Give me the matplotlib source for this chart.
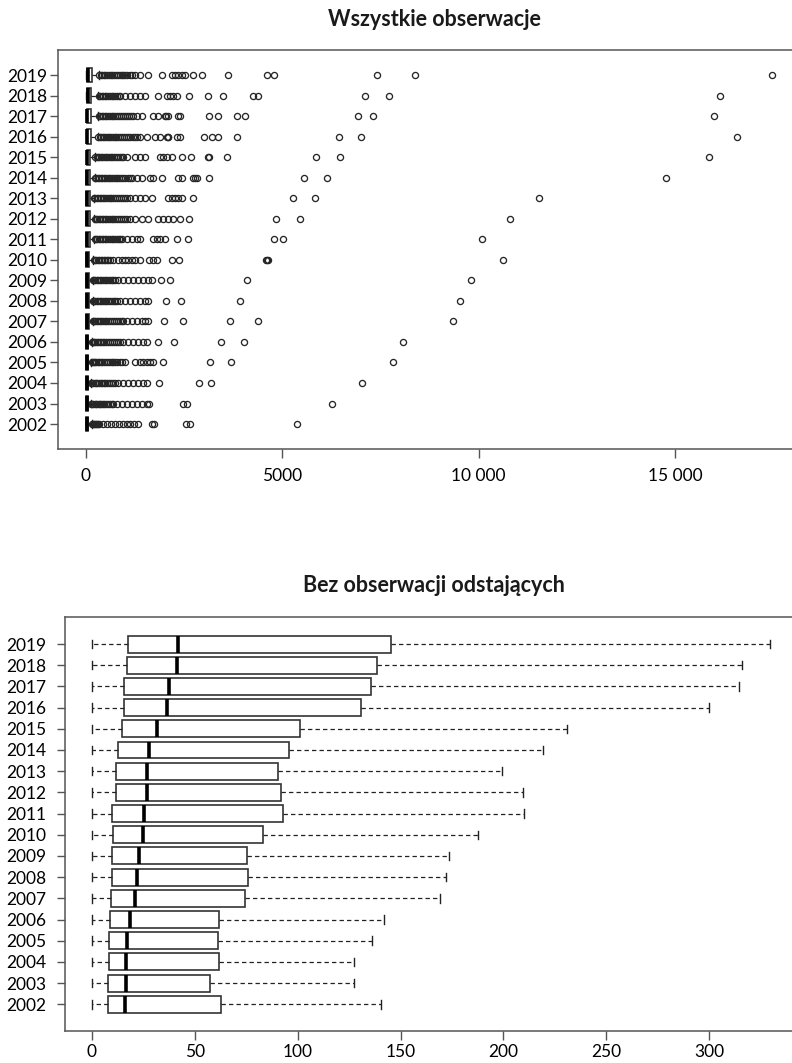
import matplotlib
matplotlib.use("Agg")
import matplotlib.pyplot as plt

plt.rcParams["font.family"] = ["Lato", "DejaVu Sans"]

years = list(range(2002, 2020))

# box statistics (2002 ... 2019)
q1 = [7.6, 7.6, 8.4, 8.4, 8.9, 9.4, 9.9, 9.9, 10.4, 9.9, 11.5, 11.5, 12.8, 14.4, 15.7, 15.7, 16.8, 17.3]
med = [16.0, 16.4, 16.4, 17.0, 18.6, 20.7, 21.9, 22.8, 24.6, 25.4, 26.6, 26.6, 27.9, 31.4, 36.3, 37.4, 41.5, 42.0]
q3 = [62.6, 57.5, 61.7, 61.1, 61.7, 74.5, 75.7, 75.4, 83.1, 92.7, 91.9, 90.6, 95.8, 101.1, 130.8, 135.5, 138.4, 145.6]
whis_lo = [0.0] * 18
whis_hi = [140.3, 127.5, 127.5, 136.1, 141.8, 169.4, 172.3, 173.4, 187.8, 210.2, 209.4, 199.2, 219.1, 231.1, 300.1, 314.7, 316.2, 329.6]

# outliers (2002 ... 2019)
fliers = [
    [150, 170, 195, 220, 250, 280, 310, 340, 441, 540, 640, 740, 840, 940, 1040, 1130, 1230, 1333,
     1689, 1732, 2547, 2649, 5382],
    [135, 160, 190, 220, 250, 285, 320, 355, 390, 430, 470, 510, 555, 600, 650, 696, 781, 909, 1036,
     1164, 1291, 1418, 1545, 1613, 2462, 2582, 6257],
    [135, 160, 190, 220, 255, 290, 330, 370, 410, 450, 495, 540, 590, 640, 690, 739, 823, 950, 1078,
     1206, 1333, 1460, 1545, 1859, 2878, 3175, 7022],
    [145, 170, 200, 230, 265, 300, 340, 380, 420, 465, 510, 555, 600, 650, 700, 750, 800, 855, 909,
     993, 1248, 1375, 1460, 1545, 1630, 1698, 1969, 3158, 3693, 7827],
    [150, 175, 205, 235, 270, 305, 345, 385, 425, 470, 515, 560, 610, 660, 710, 760, 810, 866, 950,
     1078, 1206, 1333, 1460, 1545, 1842, 2241, 3430, 4032, 8082],
    [180, 210, 240, 275, 310, 350, 390, 430, 475, 520, 565, 610, 660, 710, 760, 810, 860, 905, 950,
     1036, 1164, 1291, 1418, 1503, 1587, 1987, 2462, 3668, 4390, 9355],
    [180, 210, 240, 275, 310, 350, 390, 430, 475, 520, 565, 610, 660, 710, 750, 781, 866, 993, 1121,
     1248, 1375, 1503, 1587, 2038, 2420, 3922, 9534],
    [180, 210, 240, 275, 310, 350, 390, 430, 475, 520, 565, 610, 660, 700, 739, 823, 950, 1078, 1206,
     1333, 1460, 1587, 1673, 1902, 2140, 4108, 9806],
    [195, 225, 260, 295, 330, 370, 410, 450, 490, 530, 570, 611, 696, 823, 908, 993, 1078, 1163, 1248,
     1375, 1613, 1700, 1800, 2200, 2377, 4578, 4610, 4645, 10621],
    [220, 250, 285, 320, 360, 400, 440, 480, 520, 565, 610, 655, 700, 745, 790, 830, 865, 909, 1036,
     1164, 1291, 1375, 1714, 1800, 1885, 2012, 2310, 2590, 4788, 5025, 10094],
    [220, 250, 285, 320, 360, 400, 440, 480, 520, 565, 610, 655, 700, 745, 790, 840, 890, 940, 990,
     1036, 1121, 1248, 1418, 1587, 1842, 1969, 2097, 2225, 2394, 2632, 4840, 5451, 10800],
    [210, 240, 275, 310, 350, 390, 430, 470, 510, 555, 600, 645, 690, 735, 780, 830, 880, 930, 985,
     1036, 1121, 1248, 1375, 1503, 1673, 2097, 2182, 2267, 2351, 2437, 2717, 5265, 5833, 11538],
    [230, 260, 295, 330, 370, 410, 450, 490, 530, 575, 620, 665, 710, 755, 800, 850, 900, 950, 1000,
     1060, 1121, 1164, 1290, 1418, 1630, 1714, 1928, 2335, 2437, 2733, 2780, 2820, 3141, 5552, 6130,
     14765],
    [240, 270, 305, 340, 380, 420, 460, 500, 540, 585, 630, 675, 720, 765, 810, 860, 905, 950, 1036,
     1248, 1375, 1503, 1885, 1969, 2055, 2183, 2437, 2666, 3115, 3140, 3582, 5850, 6469, 15869],
    [310, 345, 385, 425, 465, 505, 550, 595, 640, 685, 730, 775, 820, 870, 920, 970, 1020, 1075, 1130,
     1185, 1240, 1291, 1375, 1545, 1757, 1885, 2060, 2081, 2100, 2310, 2394, 3006, 3200, 3370, 3838,
     6444, 6996, 16590],
    [325, 360, 400, 440, 480, 520, 565, 610, 655, 700, 745, 790, 840, 890, 940, 990, 1045, 1100, 1150,
     1205, 1291, 1418, 1714, 1842, 2012, 2050, 2097, 2351, 2394, 3141, 3370, 3838, 4050, 6937, 7319,
     15995],
    [325, 360, 400, 440, 480, 520, 565, 610, 655, 700, 745, 790, 830, 865, 993, 1120, 1250, 1375, 1503,
     1842, 2055, 2140, 2225, 2310, 2632, 3115, 3497, 4262, 4390, 7106, 7718, 16148],
    [340, 375, 415, 455, 495, 535, 580, 625, 670, 715, 760, 805, 855, 905, 955, 1005, 1055, 1110, 1164,
     1248, 1375, 1587, 1943, 2183, 2267, 2351, 2437, 2522, 2733, 2947, 3609, 4603, 4796, 7404, 8380,
     17480],
]

top_ticks = [0, 5000, 10000, 15000]
top_ticklabels = ["0", "5000", "10 000", "15 000"]
bot_ticks = [0, 50, 100, 150, 200, 250, 300]

title_top = "Wszystkie obserwacje"
title_bot = "Bez obserwacji odstających"

W, H = 792, 1063
fig = plt.figure(figsize=(W / 100, H / 100), dpi=100)

SPINE = "#555555"


def px_axes(left, top, right, bottom):
    return fig.add_axes([left / W, 1 - bottom / H, (right - left) / W, (bottom - top) / H])


def stats(with_fliers):
    out = []
    for i, y in enumerate(years):
        out.append(dict(q1=q1[i], med=med[i], q3=q3[i], whislo=whis_lo[i], whishi=whis_hi[i],
                        fliers=fliers[i] if with_fliers else [], label=str(y)))
    return out


def draw(ax, st, width, ms):
    ax.bxp(st, positions=list(range(1, 19)), widths=width, vert=False, patch_artist=True,
           showfliers=True,
           boxprops=dict(facecolor="white", edgecolor="#333333", linewidth=1.2),
           medianprops=dict(color="black", linewidth=2.6, solid_capstyle="butt"),
           whiskerprops=dict(color="#222222", linewidth=0.9, linestyle=(0, (3.5, 2.5))),
           capprops=dict(color="#222222", linewidth=1.0),
           flierprops=dict(marker="o", markerfacecolor="none", markeredgecolor="#262626",
                           markersize=ms, markeredgewidth=0.95, linestyle="none"))
    for s in ["left", "top", "bottom", "right"]:
        ax.spines[s].set_color(SPINE)
        ax.spines[s].set_linewidth(1.1)
    ax.set_yticks(range(1, 19))
    ax.set_yticklabels([str(y) for y in years])


# ── top: all observations ───────────────────────────────────────────────
ax1 = px_axes(58, 50, 800, 449.3)
draw(ax1, stats(True), 0.72, 4.4)
ax1.set_xlim(-713, (800 - 86) / 0.03926)
ax1.set_ylim(-0.23, 19.22)
ax1.set_xticks(top_ticks)
ax1.set_xticklabels(top_ticklabels)
ax1.tick_params(axis="y", length=6, width=1, color=SPINE, pad=1.5, labelsize=12.5)
ax1.tick_params(axis="x", length=6.5, width=1, color=SPINE, pad=7, labelsize=12.5)

# ── bottom: without outliers ────────────────────────────────────────────
ax2 = px_axes(65, 616.7, 800, 1031)
draw(ax2, stats(False), 0.8, 4.4)
ax2.set_xlim(-13.1, (800 - 92) / 2.057)
ax2.set_ylim(-0.26, 19.29)
ax2.set_xticks(bot_ticks)
ax2.tick_params(axis="y", length=6, width=1, color=SPINE, pad=7.5, labelsize=12.5)
ax2.tick_params(axis="x", length=6.5, width=1, color=SPINE, pad=3, labelsize=12.5)

fig.text(434 / W, 1 - 20 / H, title_top, ha="center", va="center", fontsize=15.5, fontweight="bold",
         color="#1a1a1a")
fig.text(434 / W, 1 - 586 / H, title_bot, ha="center", va="center", fontsize=15.5, fontweight="bold",
         color="#1a1a1a")

fig.savefig("out.png", dpi=100)
